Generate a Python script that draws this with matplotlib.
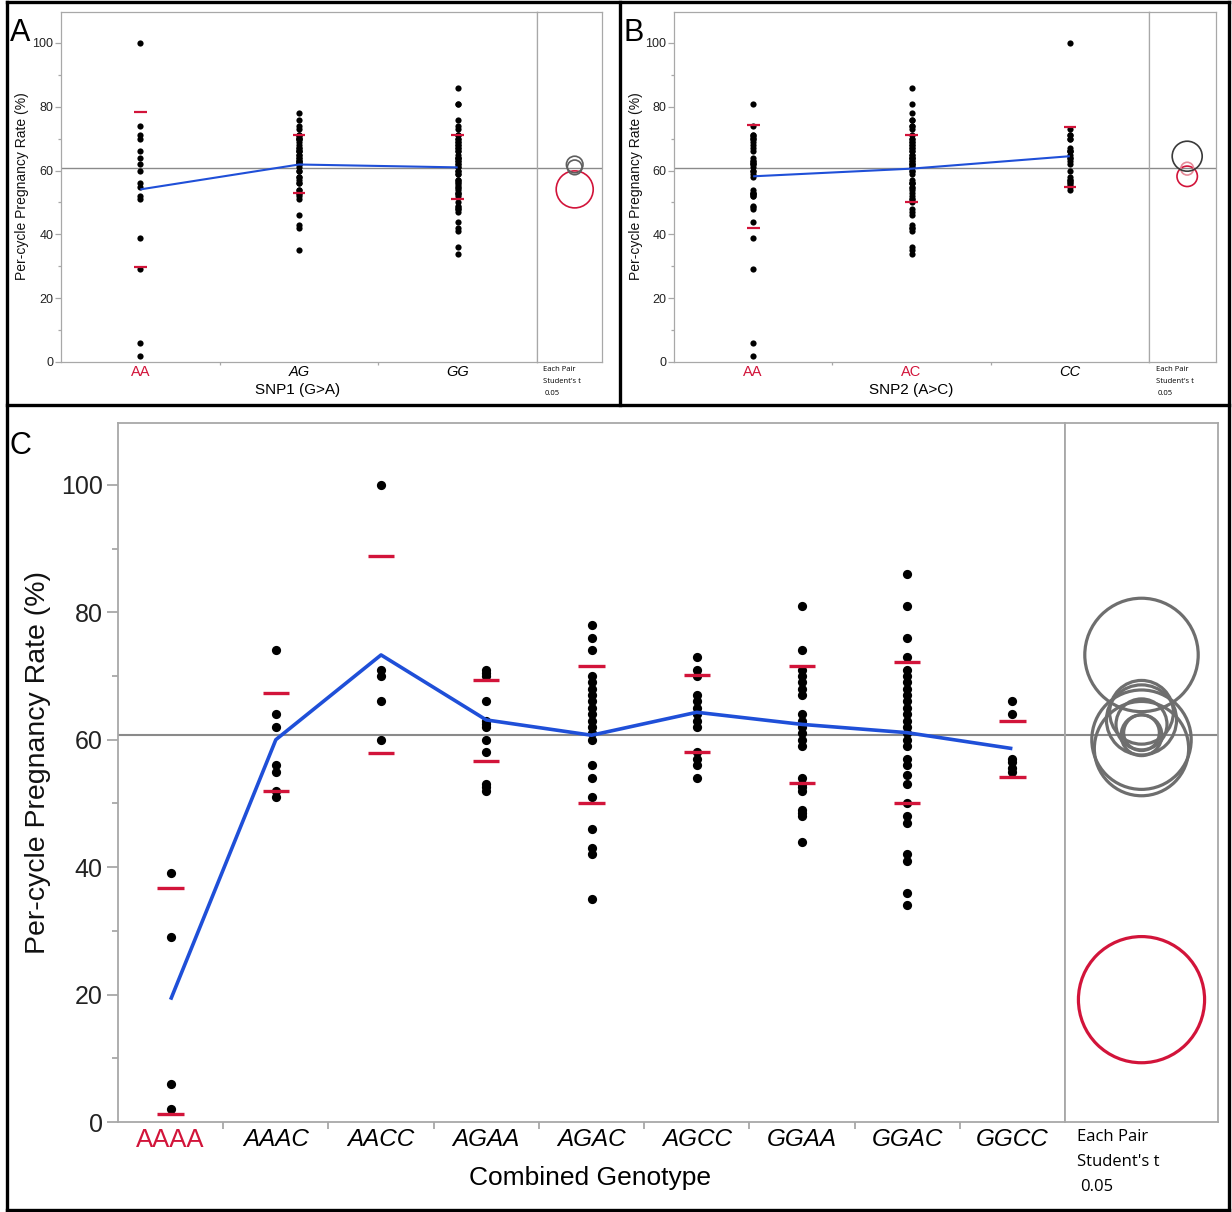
import matplotlib
matplotlib.use("Agg")
import matplotlib.pyplot as plt
from matplotlib.patches import Ellipse
from matplotlib.lines import Line2D
import numpy as np

W, H, DPI = 1232, 1212, 100
NARROW = ['Liberation Sans Narrow', 'Liberation Sans', 'DejaVu Sans']
ARIAL = ['Liberation Sans', 'DejaVu Sans']
SEGOE = ['Open Sans', 'DejaVu Sans']
plt.rcParams['font.family'] = ARIAL

# ------------------------------------------------------------------ data
combo_names = ['AAAA', 'AAAC', 'AACC', 'AGAA', 'AGAC', 'AGCC', 'GGAA', 'GGAC', 'GGCC']
pts_AAAA = [39, 29, 6, 2]
pts_AAAC = [74, 64, 62, 56, 55, 52, 51]
pts_AACC = [100, 71, 70, 66, 60]
pts_AGAA = [71, 70.5, 70, 66, 63, 62.5, 62, 60, 58, 53, 52.5, 52]
pts_AGAC = [78, 76, 74, 70, 69, 68, 67, 66, 65, 64, 63, 62, 61, 60, 56, 54, 51, 46, 43, 42, 35]
pts_AGCC = [73, 71, 70, 67, 66, 65, 64, 63, 62, 58, 57, 56, 54]
pts_GGAA = [81, 74, 71, 70, 69, 68, 67, 64, 63, 62, 61, 60, 59, 54, 53, 52.5, 52, 49, 48.5, 48, 44]
pts_GGAC = [86, 81, 76, 73, 71, 70, 69, 68, 67, 66, 65, 64, 63, 62, 61, 60, 59, 57, 56, 54.5,
            53, 50, 48, 47, 42, 41, 36, 34]
pts_GGCC = [66, 64, 57, 56.5, 55.5, 55]
combo_means = [19.2, 60.0, 73.3, 63.1, 60.7, 64.3, 62.4, 61.1, 58.6]
combo_sd_hi = [36.8, 67.4, 88.8, 69.4, 71.5, 70.2, 71.5, 72.2, 62.9]
combo_sd_lo = [1.2, 51.9, 57.9, 56.7, 50.0, 58.1, 53.2, 50.0, 54.1]
combo_circle_r = [9.9, 7.8, 8.9, 5.5, 3.2, 5.0, 4.0, 2.8, 7.4]

snp1_names = ['AA', 'AG', 'GG']
snp1_means = [54.1, 61.9, 61.0]
snp1_sd_hi = [78.3, 71.0, 71.2]
snp1_sd_lo = [29.8, 53.1, 51.1]
snp1_circle_r = [5.8, 2.6, 2.3]

snp2_names = ['AA', 'AC', 'CC']
snp2_means = [58.2, 60.6, 64.5]
snp2_sd_hi = [74.2, 71.2, 73.6]
snp2_sd_lo = [42.1, 50.3, 55.0]
snp2_circle_r = [3.2, 2.0, 4.7]

grand_mean = 60.7
y_ticks = [0, 20, 40, 60, 80, 100]
y_minor = [10, 30, 50, 70, 90]

combo_groups = [pts_AAAA, pts_AAAC, pts_AACC, pts_AGAA, pts_AGAC, pts_AGCC, pts_GGAA, pts_GGAC, pts_GGCC]
# single-SNP groups are unions of the combined genotypes
snp1_groups = [pts_AAAA + pts_AAAC + pts_AACC,
               pts_AGAA + pts_AGAC + pts_AGCC,
               pts_GGAA + pts_GGAC + pts_GGCC]
snp2_groups = [pts_AAAA + pts_AGAA + pts_GGAA,
               pts_AAAC + pts_AGAC + pts_GGAC,
               pts_AACC + pts_AGCC + pts_GGCC]

# ------------------------------------------------------------------ style
RED = '#d2143a'
BLUE = '#1f4fd8'
GREY_LINE = '#8a8a8a'
FRAME = '#a8a8a8'
YTOP = 109.7

fig = plt.figure(figsize=(W / DPI, H / DPI), dpi=DPI)
fig.patch.set_facecolor('white')


def add_ax(l, t, r, b):
    return fig.add_axes([l / W, 1 - b / H, (r - l) / W, (b - t) / H])


def draw_panel(box, names, groups, means, hi, lo, radii, circ_colors, lab_colors, lab_italic,
               s):
    L, T, D, R, B = box
    ax = add_ax(L, T, D, B)
    axc = add_ax(D, T, R, B)
    n = len(names)
    ax.set_xlim(-0.5, n - 0.5)
    ax.set_ylim(0, YTOP)
    axc.set_xlim(0, 1)
    axc.set_ylim(0, YTOP)
    for a in (ax, axc):
        a.axhline(grand_mean, color=GREY_LINE, lw=s['gl'], zorder=1)
        for sp in a.spines.values():
            sp.set_color(FRAME)
            sp.set_linewidth(s['frame'])
    for i, vals in enumerate(groups):
        ax.scatter(np.full(len(vals), i), vals, s=s['dot'], color='black', lw=0, zorder=3)
    ax.plot(range(n), means, color=BLUE, lw=s['ml'], zorder=4, solid_capstyle='butt')
    ax.hlines(hi, np.arange(n) - s['bw'], np.arange(n) + s['bw'], color=RED, lw=s['bl'], zorder=5)
    ax.hlines(lo, np.arange(n) - s['bw'], np.arange(n) + s['bw'], color=RED, lw=s['bl'], zorder=5)

    ax.set_yticks(y_ticks)
    ax.set_yticks(y_minor, minor=True)
    ax.tick_params(axis='y', which='major', length=s['tl'], width=s['frame'], color=FRAME,
                   labelsize=s['yt'], pad=s['ypad'], labelcolor='#222222')
    ax.tick_params(axis='y', which='minor', length=s['tl'] * 0.55, width=s['frame'], color=FRAME)
    for lbl in ax.get_yticklabels():
        lbl.set_fontfamily(NARROW)
    ax.set_xticks(range(n))
    ax.set_xticklabels(names)
    ax.set_xticks(np.arange(n - 1) + 0.5, minor=True)
    ax.tick_params(axis='x', which='major', length=0, pad=s['xpad'])
    ax.tick_params(axis='x', which='minor', length=s['tl'] * 0.6, width=s['frame'], color=FRAME)
    for lbl, c, it in zip(ax.get_xticklabels(), lab_colors, lab_italic):
        lbl.set_color(c)
        lbl.set_fontstyle('italic' if it else 'normal')
        lbl.set_fontfamily(ARIAL)
        lbl.set_fontsize(s['xt_it'] if it else s['xt_up'])
    axc.set_xticks([])
    axc.set_yticks([])

    ppu = (B - T) / YTOP
    wpx = R - D
    for m, r, c in zip(means, radii, circ_colors):
        axc.add_patch(Ellipse((s['cx'], m), width=2 * r * ppu / wpx, height=2 * r,
                              fill=False, edgecolor=c, lw=s['cl'], zorder=3))
    return ax, axc


small = dict(gl=1.0, frame=0.9, dot=20, ml=1.5, bw=0.04, bl=1.6, tl=4, yt=9, ypad=1.5,
             xpad=2, xt_it=10.5, xt_up=10.5, cx=0.58, cl=1.2)
big = dict(gl=1.5, frame=1.3, dot=44, ml=2.6, bw=0.125, bl=2.4, tl=8, yt=18, ypad=3,
           xpad=4, xt_it=17.5, xt_up=18.5, cx=0.50, cl=2.3)

# Panel A
draw_panel((61, 12, 537, 602, 362), snp1_names, snp1_groups, snp1_means, snp1_sd_hi, snp1_sd_lo,
           snp1_circle_r, [RED, '#5e5e5e', '#5e5e5e'], [RED, 'black', 'black'],
           [False, True, True], small)
# Panel B
small_b = dict(small, cx=0.57)
draw_panel((674, 12, 1149, 1216, 362), snp2_names, snp2_groups, snp2_means, snp2_sd_hi, snp2_sd_lo,
           snp2_circle_r, [RED, '#e58a98', '#3a3a3a'], [RED, RED, 'black'],
           [False, False, True], small_b)
# Panel C
draw_panel((118, 423, 1065, 1218, 1122), combo_names, combo_groups, combo_means, combo_sd_hi,
           combo_sd_lo, combo_circle_r, [RED] + ['#6e6e6e'] * 8, [RED] + ['black'] * 8,
           [False] + [True] * 8, big)


def ftext(x, y, s, **kw):
    fig.text(x / W, 1 - y / H, s, **kw)


# axis titles
ftext(22, 186, 'Per-cycle Pregnancy Rate (%)', rotation=90, ha='center', va='center',
      fontsize=10, color='#111111', family=NARROW)
ftext(636, 186, 'Per-cycle Pregnancy Rate (%)', rotation=90, ha='center', va='center',
      fontsize=10, color='#111111', family=NARROW)
ftext(38, 762, 'Per-cycle Pregnancy Rate (%)', rotation=90, ha='center', va='center',
      fontsize=20.5, color='#111111', family=NARROW)
ftext(298, 390, 'SNP1 (G>A)', ha='center', va='center', fontsize=11, family=ARIAL)
ftext(911, 390, 'SNP2 (A>C)', ha='center', va='center', fontsize=11, family=ARIAL)
ftext(590, 1178, 'Combined Genotype', ha='center', va='center', fontsize=19, family=ARIAL)

# comparison-circle captions
for x0, fs, ys in [(543, 5.5, (369, 381, 393)), (1156, 5.5, (369, 381, 393)),
                   (1077, 12, (1137, 1162, 1187))]:
    ftext(x0, ys[0], 'Each Pair', ha='left', va='center', fontsize=fs, family=SEGOE)
    ftext(x0, ys[1], "Student's t", ha='left', va='center', fontsize=fs, family=SEGOE)
    ftext(x0 + fs * 0.3, ys[2], '0.05', ha='left', va='center', fontsize=fs, family=SEGOE)

# panel letters
ftext(10, 33, 'A', ha='left', va='center', fontsize=22, family=ARIAL)
ftext(623, 33, 'B', ha='left', va='center', fontsize=22, family=ARIAL)
ftext(10, 446, 'C', ha='left', va='center', fontsize=22, family=ARIAL)


# panel borders
def fline(x0, y0, x1, y1):
    fig.add_artist(Line2D([x0 / W, x1 / W], [1 - y0 / H, 1 - y1 / H], color='black', lw=2.4,
                          transform=fig.transFigure))


fline(7, 2, 1229, 2)
fline(7, 2, 7, 1210)
fline(1229, 2, 1229, 1210)
fline(7, 1210, 1229, 1210)
fline(620, 2, 620, 405)
fline(7, 405, 1229, 405)

fig.savefig('out.png', dpi=DPI, facecolor='white')
